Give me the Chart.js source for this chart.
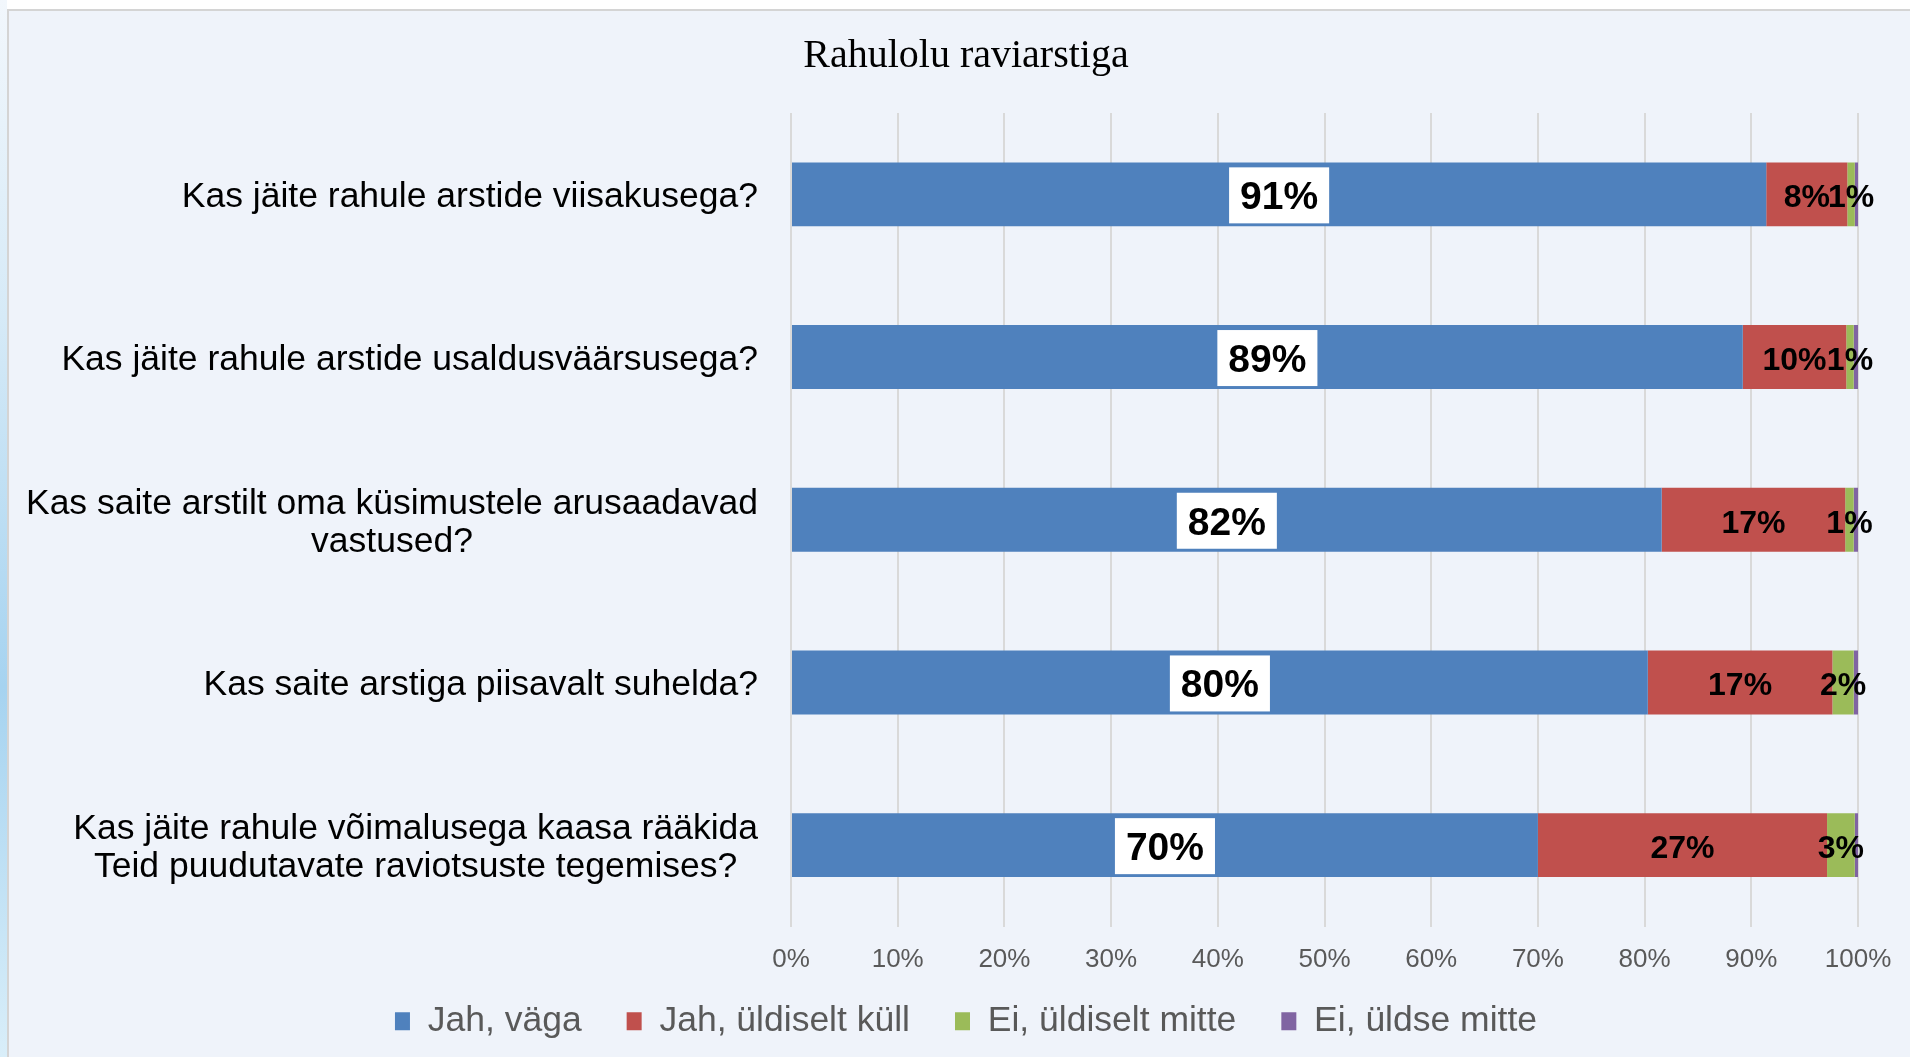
<!DOCTYPE html>
<html><head><meta charset="utf-8">
<script src="https://cdn.jsdelivr.net/npm/chart.js@4/dist/chart.umd.min.js"></script>
<style>
html,body{margin:0;padding:0;width:1910px;height:1057px;overflow:hidden;background:#fff;}
#strip{position:absolute;left:0;top:0;width:7px;height:1057px;background:linear-gradient(180deg,#f2f7fc 0%,#d6eaf7 30%,#a6d3f0 65%,#d9eef9 100%);}
#box{position:absolute;left:7px;top:9px;width:1903px;height:1048px;background:#EFF3FA;border-left:2px solid #D4D4D4;border-top:2px solid #D4D4D4;box-sizing:border-box;}
canvas{position:absolute;left:0;top:0;}
</style></head><body>
<div id="strip"></div><div id="box"></div>
<canvas id="c" width="1910" height="1057"></canvas>
<script>
const chartTitle = 'Rahulolu raviarstiga';
const categories = [
  ["Kas jäite rahule arstide viisakusega?"],
  ["Kas jäite rahule arstide usaldusväärsusega?"],
  ["Kas saite arstilt oma küsimustele arusaadavad", "vastused?"],
  ["Kas saite arstiga piisavalt suhelda?"],
  ["Kas jäite rahule võimalusega kaasa rääkida", "Teid puudutavate raviotsuste tegemises?"]
];
const seriesNames = ["Jah, väga", "Jah, üldiselt küll", "Ei, üldiselt mitte", "Ei, üldse mitte"];
const jahVaga = [91.4, 89.2, 81.6, 80.3, 70.0];
const jahUldiseltKull = [7.6, 9.7, 17.2, 17.3, 27.1];
const eiUldiseltMitte = [0.7, 0.7, 0.8, 2.0, 2.6];
const eiUldseMitte = [0.3, 0.4, 0.4, 0.4, 0.3];
const seriesColors = ['#4F81BD', '#C0504D', '#9BBB59', '#8064A2'];
const xTickLabels = ['0%','10%','20%','30%','40%','50%','60%','70%','80%','90%','100%'];

const SANS = '"Liberation Sans", Arial, Helvetica, sans-serif';
Chart.defaults.font.family = SANS;

const valueLabels = {
  id: 'valueLabels',
  afterDatasetsDraw(chart) {
    const ctx = chart.ctx;
    ctx.save();
    ctx.textAlign = 'center';
    ctx.textBaseline = 'middle';
    chart.data.datasets.forEach((ds, di) => {
      const meta = chart.getDatasetMeta(di);
      meta.data.forEach((bar, i) => {
        const r = Math.round(ds.data[i]);
        if (r < 1) return;
        const p = bar.getProps(['x', 'y', 'base'], true);
        const cx = (p.x + p.base) / 2;
        const txt = r + '%';
        if (di === 0) {
          ctx.font = 'bold 39px ' + SANS;
          const w = ctx.measureText(txt).width;
          ctx.fillStyle = '#FFFFFF';
          ctx.fillRect(cx - w / 2 - 11, p.y - 27, w + 22, 56);
          ctx.fillStyle = '#000';
          ctx.fillText(txt, cx, p.y + 4);
        } else {
          ctx.font = 'bold 32px ' + SANS;
          ctx.fillStyle = '#000';
          ctx.fillText(txt, cx, p.y + 4);
        }
      });
    });
    ctx.restore();
  }
};

const categoryLabels = {
  id: 'categoryLabels',
  afterLayout(chart) {
    // let the x tick labels draw below the compact axis box
    const x = chart.scales.x;
    x.bottom = x.top + 70;
  },
  afterDraw(chart) {
    const ctx = chart.ctx;
    const s = chart.scales.y;
    ctx.save();
    ctx.font = '35.5px ' + SANS;
    ctx.fillStyle = '#000';
    ctx.textAlign = 'center';
    ctx.textBaseline = 'middle';
    const lh = 38;
    categories.forEach((lines, i) => {
      const yc = s.getPixelForValue(i) + 3;
      const w = Math.max(...lines.map(l => ctx.measureText(l).width));
      const cx = s.right - 33 - w / 2;
      lines.forEach((l, j) => {
        ctx.fillText(l, cx, yc + (j - (lines.length - 1) / 2) * lh);
      });
    });
    ctx.restore();
  }
};

const seriesData = [jahVaga, jahUldiseltKull, eiUldiseltMitte, eiUldseMitte];

new Chart(document.getElementById('c'), {
  type: 'bar',
  data: {
    labels: categories,
    datasets: seriesNames.map((n, k) => ({
      label: n,
      data: seriesData[k],
      backgroundColor: seriesColors[k],
      borderWidth: 0,
      barPercentage: 0.393,
      categoryPercentage: 1
    }))
  },
  options: {
    indexAxis: 'y',
    responsive: false,
    animation: false,
    layout: { padding: { left: 74, right: 52, top: 12, bottom: 8 } },
    plugins: {
      title: {
        display: true, text: chartTitle, color: '#000',
        font: { family: '"Liberation Serif", "Times New Roman", serif', size: 40, weight: 'normal' },
        padding: { top: 20, bottom: 33 }
      },
      legend: {
        position: 'bottom',
        labels: { boxWidth: 15, boxHeight: 18, padding: 45, color: '#595959', font: { size: 35.5 } }
      },
      tooltip: { enabled: false }
    },
    scales: {
      x: {
        stacked: true, min: 0, max: 100,
        ticks: { stepSize: 10, callback: (v, i) => xTickLabels[i], color: '#595959', font: { size: 26 }, padding: 18, maxRotation: 0 },
        grid: { color: '#D9D9D9', lineWidth: 2, drawTicks: false },
        border: { display: false },
        afterFit(scale) { scale.height = 32; }
      },
      y: {
        stacked: true,
        ticks: { display: false },
        grid: { display: false, drawTicks: false },
        border: { display: false },
        afterFit(scale) { scale.width = 717; }
      }
    }
  },
  plugins: [valueLabels, categoryLabels]
});
</script>
</body></html>
